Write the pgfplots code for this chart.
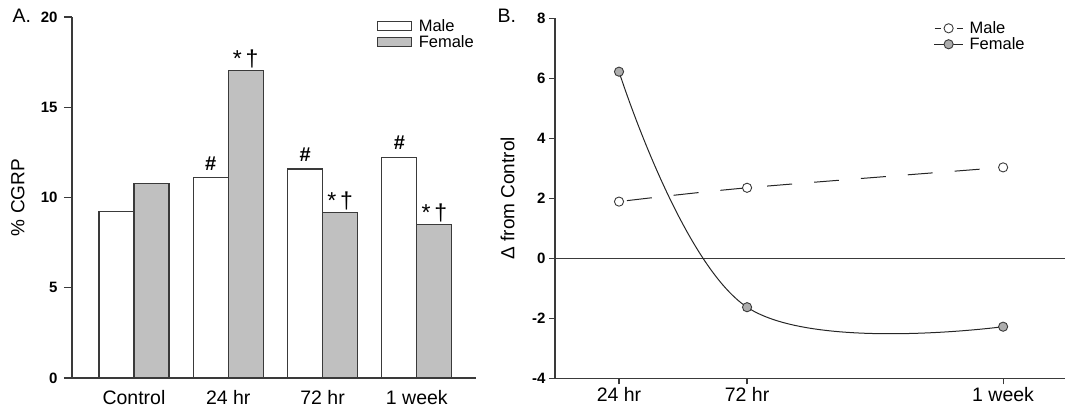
\documentclass[border=0pt]{standalone}
\usepackage{pgfplots}
\pgfplotsset{compat=1.18}
\usepackage{fontspec}
\setmainfont{Liberation Sans}
\definecolor{barfill}{HTML}{C0C0C0}
\definecolor{edge}{HTML}{3A3A3A}
\pgfplotsset{
  maleleg/.style={legend image code/.code={%
    \draw[##1, mark=none, solid] (0.5pt,0pt) -- (6.5pt,0pt);
    \draw[##1, mark=none, solid] (22.5pt,0pt) -- (28.5pt,0pt);
    \draw[##1, draw=none, mark repeat=2, mark phase=2] plot coordinates {(0pt,0pt) (14.5pt,0pt) (29pt,0pt)};}},
  femaleleg/.style={legend image code/.code={%
    \draw[##1, mark repeat=2, mark phase=2] plot coordinates {(0pt,0pt) (14.5pt,0pt) (29pt,0pt)};}},
  barleg/.style={legend image code/.code={\draw[##1] (0pt,-4.5pt) rectangle (34pt,4.5pt);}},
}
\begin{document}
\begin{tikzpicture}
\useasboundingbox (0,0) rectangle (1065pt,414pt);
\node[anchor=base west,font=\fontsize{19.5}{20}\selectfont] at (9pt,391pt) {A.};
\node[anchor=base west,font=\fontsize{19.5}{20}\selectfont] at (494pt,391pt) {B.};
% Panel A
\begin{axis}[
  at={(72pt,36pt)}, anchor=south west,
  scale only axis, width=404pt, height=361pt,
  axis x line*=bottom, axis y line*=left,
  axis line style={edge, line width=1.2pt},
  xmin=-0.657, xmax=3.627, ymin=0, ymax=20,
  ybar=0pt, bar width=35pt,
  xtick={0,1,2,3}, xticklabels={Control,24 hr,72 hr,1 week},
  major x tick style={draw=none},
  ytick={0,5,10,15,20},
  major tick length=8pt,
  tick align=outside,
  y tick style={edge, line width=1.2pt},
  /pgf/number format/assume math mode=true,
  xticklabel style={font=\fontsize{19.5}{22}\selectfont, yshift=-1pt},
  yticklabel style={font=\bfseries\fontsize{15}{17}\selectfont, xshift=-3pt},
  ylabel={\% CGRP},
  ylabel style={at={(axis description cs:-0.134,0.5)}, anchor=center, font=\fontsize{19}{22}\selectfont},
  legend style={at={(axis description cs:0.755,1.0)}, anchor=north west, draw=none, fill=none,
    font=\fontsize{16.5}{17}\selectfont, row sep=-1.5pt, inner sep=0pt,
    nodes={inner xsep=6.5pt}},
  legend cell align=left,
  barleg,
]
\addplot[fill=white, draw=edge, line width=1.1pt] coordinates {(0,9.22) (1,11.1) (2,11.58) (3,12.24)};
\addplot[fill=barfill, draw=edge, line width=1.1pt] coordinates {(0,10.8) (1,17.03) (2,9.17) (3,8.52)};
\legend{Male,Female}
\node[anchor=south, font=\bfseries\fontsize{20}{22}\selectfont, inner sep=0pt, yshift=7pt] at (axis cs:0.8144,11.1) {\#};
\node[anchor=south, font=\bfseries\fontsize{20}{22}\selectfont, inner sep=0pt, yshift=7pt] at (axis cs:1.8144,11.58) {\#};
\node[anchor=south, font=\bfseries\fontsize{20}{22}\selectfont, inner sep=0pt, yshift=7pt] at (axis cs:2.8144,12.24) {\#};
\node[anchor=south, font=\fontsize{23}{24}\selectfont, inner sep=0pt, yshift=2pt] at (axis cs:1.1856,17.03) {*\,†};
\node[anchor=south, font=\fontsize{23}{24}\selectfont, inner sep=0pt, yshift=2pt] at (axis cs:2.1856,9.17) {*\,†};
\node[anchor=south, font=\fontsize{23}{24}\selectfont, inner sep=0pt, yshift=2pt] at (axis cs:3.1856,8.52) {*\,†};
\end{axis}
% Panel B
\begin{axis}[
  at={(555pt,35.7pt)}, anchor=south west,
  scale only axis, width=510pt, height=360pt,
  axis x line*=bottom, axis y line*=left,
  axis line style={edge, line width=1.2pt},
  xmin=0, xmax=191.2, ymin=-4, ymax=8,
  xtick={24,72,168}, xticklabels={24 hr,72 hr,1 week},
  ytick={-4,-2,0,2,4,6,8},
  major tick length=6pt,
  tick align=outside,
  tick style={edge, line width=1.2pt},
  /pgf/number format/assume math mode=true,
  xticklabel style={font=\fontsize{19.5}{22}\selectfont},
  yticklabel style={font=\bfseries\fontsize{15}{17}\selectfont},
  ylabel={Δ from Control},
  ylabel style={at={(axis description cs:-0.093,0.5)}, anchor=center, font=\fontsize{19}{22}\selectfont},
  legend style={at={(axis description cs:0.742,0.997)}, anchor=north west, draw=none, fill=none,
    font=\fontsize{16.5}{17}\selectfont, row sep=-1.5pt, inner sep=0pt,
    nodes={inner xsep=6pt}},
  legend cell align=left,
]
\addplot[forget plot, edge, line width=1.2pt] coordinates {(0,0) (191.2,0)};
\addplot[black!85, line width=1pt, smooth, tension=0.5, dash pattern=on 25pt off 22pt, dash phase=-8pt,
  mark=*, mark size=4.6pt, mark options={solid, fill=white, draw=edge, line width=0.9pt}, maleleg]
  coordinates {(24,1.89) (72,2.35) (168,3.03)};
\addplot[black!85, line width=1pt, smooth, tension=0.63,
  mark=*, mark size=4.6pt, mark options={solid, fill=barfill!90!black, draw=edge, line width=0.9pt}, femaleleg]
  coordinates {(24,6.22) (72,-1.63) (168,-2.28)};
\legend{Male,Female}
\end{axis}
\end{tikzpicture}
\end{document}
